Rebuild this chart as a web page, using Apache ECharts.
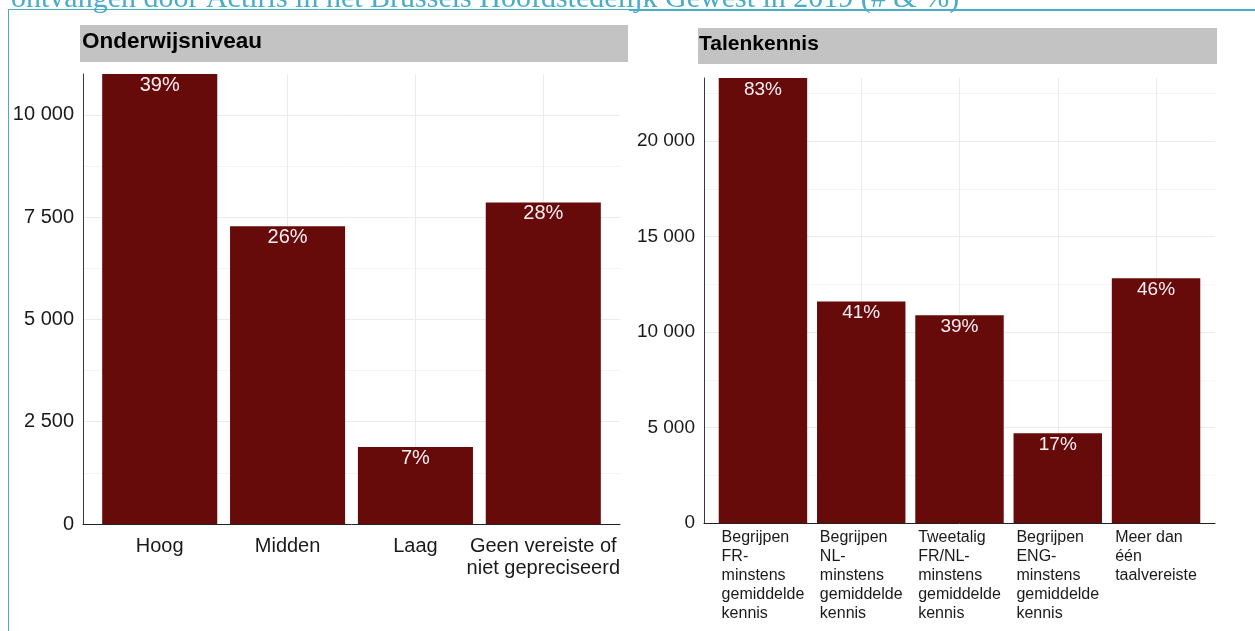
<!DOCTYPE html>
<html>
<head>
<meta charset="utf-8">
<script src="https://cdn.jsdelivr.net/npm/echarts@6/dist/echarts.min.js"></script>
<style>
  html, body { margin: 0; padding: 0; background: #ffffff; }
  #chart { width: 1255px; height: 631px; }
</style>
</head>
<body>
<div id="chart"></div>
<script>
// Vacatures per onderwijsniveau en per taalvereiste (aantallen)
const educationLevels = ['Hoog', 'Midden', 'Laag', 'Geen vereiste of\nniet gepreciseerd'];
const educationCounts = [11000, 7280, 1880, 7860];
const educationTicks = [0, 2500, 5000, 7500, 10000];

const languageReqs = [
  'Begrijpen\nFR-\nminstens\ngemiddelde\nkennis',
  'Begrijpen\nNL-\nminstens\ngemiddelde\nkennis',
  'Tweetalig\nFR/NL-\nminstens\ngemiddelde\nkennis',
  'Begrijpen\nENG-\nminstens\ngemiddelde\nkennis',
  'Meer dan\néén\ntaalvereiste'
];
const languageCounts = [23300, 11600, 10880, 4700, 12820];
const languageTicks = [0, 5000, 10000, 15000, 20000];

const pageTitle = 'ontvangen door Actiris in het Brussels Hoofdstedelijk Gewest in 2019 (# & %)';
const panelTitles = ['Onderwijsniveau', 'Talenkennis'];

// Percentages are shares of all vacancies in the year
const totalVacancies = educationCounts.reduce((a, b) => a + b, 0);

const FONT = 'Liberation Sans';
const BAR = '#670a0a';
const GRID_MAJOR = '#ebebeb';
const GRID_MINOR = '#f4f4f4';
const ACCENT = '#4bacc6';

const fmtThousands = v => String(v).replace(/\B(?=(\d{3})+(?!\d))/g, ' ');
const pct = p => Math.round(p.value[1] / totalVacancies * 100) + '%';

const chart = echarts.init(document.getElementById('chart'), null, { renderer: 'canvas' });

function valueAxisY(gridIndex, max, ticks, fontSize) {
  return {
    type: 'value', gridIndex, min: 0, max, interval: ticks[1] / 2,
    axisLine: { show: true, lineStyle: { color: '#3a3a3a', width: 1 } },
    axisTick: { show: false },
    axisLabel: {
      margin: 9, fontSize, fontFamily: FONT, color: '#1a1a1a',
      showMaxLabel: false,
      formatter: v => ticks.includes(v) ? fmtThousands(v) : ''
    },
    splitLine: { show: true, showMaxLine: false, lineStyle: { color: [GRID_MAJOR, GRID_MINOR], width: 1 } }
  };
}

const option = {
  backgroundColor: '#ffffff',
  animation: false,
  title: [
    { text: panelTitles[0], left: 82, top: 30, padding: 0, z: 10,
      textStyle: { fontFamily: FONT, fontWeight: 'bold', fontSize: 22.5, color: '#000' } },
    { text: panelTitles[1], left: 699, top: 34, padding: 0, z: 10,
      textStyle: { fontFamily: FONT, fontWeight: 'bold', fontSize: 21, color: '#000' } }
  ],
  graphic: [
    { type: 'text', z: 1, style: { text: pageTitle, x: 11, y: 14, verticalAlign: 'bottom',
        fontSize: 30, fontFamily: 'Liberation Serif', fill: ACCENT } },
    { type: 'line', z: 1, shape: { x1: 8, y1: 9.5, x2: 1255, y2: 9.5 }, style: { stroke: ACCENT, lineWidth: 1 } },
    { type: 'line', z: 1, shape: { x1: 629, y1: 10, x2: 1255, y2: 10 }, style: { stroke: ACCENT, lineWidth: 2 } },
    { type: 'line', z: 1, shape: { x1: 8.5, y1: 9, x2: 8.5, y2: 631 }, style: { stroke: ACCENT, lineWidth: 1 } },
    { type: 'rect', z: 2, shape: { x: 80, y: 25, width: 548, height: 37 }, style: { fill: '#c3c3c3' } },
    { type: 'rect', z: 2, shape: { x: 698, y: 28, width: 519, height: 36 }, style: { fill: '#c3c3c3' } }
  ],
  grid: [
    { left: 83, right: 635, top: 74, bottom: 107, containLabel: false },
    { left: 704, right: 40, top: 78, bottom: 108, containLabel: false }
  ],
  xAxis: [
    {
      type: 'value', gridIndex: 0, min: 0.4, max: educationLevels.length + 0.6,
      axisLine: { show: true, onZero: false, lineStyle: { color: '#222', width: 1 } },
      axisTick: { show: false },
      axisLabel: {
        margin: 11, fontSize: 20, lineHeight: 22, fontFamily: FONT, color: '#1a1a1a',
        showMinLabel: false, showMaxLabel: false,
        formatter: v => Number.isInteger(v) && educationLevels[v - 1] ? educationLevels[v - 1] : ''
      },
      splitLine: { show: true, showMinLine: false, showMaxLine: false, lineStyle: { color: GRID_MAJOR, width: 1 } }
    },
    {
      type: 'value', gridIndex: 1, min: 0.4, max: languageReqs.length + 0.6,
      axisLine: { show: true, onZero: false, lineStyle: { color: '#222', width: 1 } },
      axisTick: { show: false },
      axisLabel: {
        margin: 5, fontFamily: FONT, color: '#1a1a1a',
        showMinLabel: false, showMaxLabel: false,
        formatter: v => Number.isInteger(v) && languageReqs[v - 1]
          ? languageReqs[v - 1].split('\n').map(s => '{l|' + s + '}').join('\n') : '',
        rich: { l: { align: 'left', fontSize: 16, lineHeight: 19, fontFamily: FONT, color: '#1a1a1a' } }
      },
      splitLine: { show: true, showMinLine: false, showMaxLine: false, lineStyle: { color: GRID_MAJOR, width: 1 } }
    }
  ],
  yAxis: [
    valueAxisY(0, 11000, educationTicks, 20),
    valueAxisY(1, 23300, languageTicks, 19)
  ],
  series: [
    {
      type: 'bar', xAxisIndex: 0, yAxisIndex: 0, barWidth: '90%',
      data: educationCounts.map((v, i) => [i + 1, v]),
      itemStyle: { color: BAR },
      label: { show: true, position: 'insideTop', distance: 1, formatter: pct,
        fontFamily: FONT, fontSize: 20, color: '#f4f0f4' }
    },
    {
      type: 'bar', xAxisIndex: 1, yAxisIndex: 1, barWidth: '90%',
      data: languageCounts.map((v, i) => [i + 1, v]),
      itemStyle: { color: BAR },
      label: { show: true, position: 'insideTop', distance: 2, formatter: pct,
        fontFamily: FONT, fontSize: 19, color: '#f4f0f4' }
    }
  ]
};

chart.setOption(option);
</script>
</body>
</html>
